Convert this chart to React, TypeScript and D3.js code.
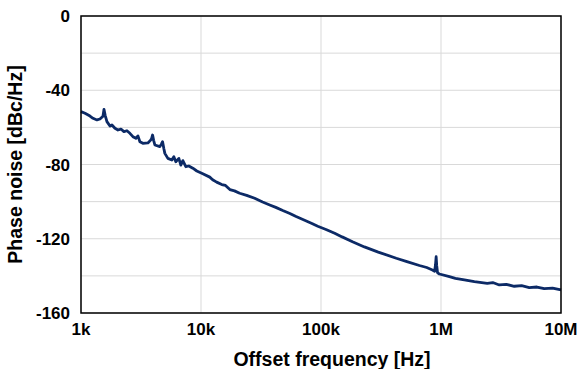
import React, { useEffect, useRef } from 'react';
import * as d3 from 'd3';

// offset frequency [Hz] and phase noise [dBc/Hz]
const freqs = [
  1000, 1080, 1188, 1258, 1359, 1439, 1524, 1554, 1590, 1645, 1743, 1811, 1918, 2032, 2151, 2279,
  2414, 2556, 2708, 2868, 2981, 3097, 3280, 3610, 3786, 3870, 3950, 4030, 4127, 4542, 4670, 4783,
  4905, 4998, 5294, 5716, 5938, 6169, 6536, 6790, 7058, 7473, 7915, 8548, 9227, 10351, 11836,
  12500, 13500, 14900, 16000, 17400, 19000, 21000, 24000, 28000, 32600, 37400, 42000, 48000,
  55000, 62000, 73000, 84000, 94000, 110000, 130000, 150000, 183000, 230000, 300000, 424000,
  520000, 661000, 760000, 848000, 885000, 900000, 911000, 921000, 935000, 970000, 1175000,
  1318000, 1566000, 1897000, 2430000, 2700000, 3060000, 3500000, 4080000, 4700000, 5440000,
  6300000, 7250000, 8500000, 10000000,
];
const noise = [
  -51.5, -52.4, -53.9, -55.1, -56.0, -55.5, -54.0, -50.3, -53.5, -56.9, -59.3, -58.7, -60.5, -61.4, -60.9, -62.3,
  -61.8, -63.2, -65.0, -65.9, -64.6, -67.7, -68.6, -68.4, -67.0, -66.2, -64.1, -67.0, -69.5, -70.4, -69.0, -67.7,
  -71.5, -74.0, -76.7, -77.6, -75.8, -78.5, -76.7, -80.3, -77.9, -81.2, -80.8, -82.0, -83.5, -85.0, -86.8,
  -88.2, -89.5, -90.8, -91.3, -93.5, -94.2, -95.5, -96.6, -98.2, -100.2, -101.8, -103.1, -104.8,
  -106.4, -108.0, -110.0, -111.8, -113.3, -115.0, -117.0, -119.0, -121.6, -124.4, -127.2, -130.5,
  -132.3, -134.4, -135.5, -136.8, -137.5, -134.0, -129.7, -134.5, -138.2, -139.0, -140.4,
  -141.3, -142.2, -143.1, -144.0, -143.6, -144.9, -144.6, -145.6, -145.3, -146.3,
  -146.0, -146.9, -146.6, -147.6,
];
const xTicks = [1e3, 1e4, 1e5, 1e6, 1e7];
const xTickLabels = ['1k', '10k', '100k', '1M', '10M'];
const yGrid = [0, -20, -40, -60, -80, -100, -120, -140, -160];
const yTickLabels = [0, -40, -80, -120, -160];

const W = 580;
const H = 369;

export default function App() {
  const ref = useRef<SVGSVGElement>(null);

  useEffect(() => {
    const svg = d3.select(ref.current);
    svg.selectAll('*').remove();

    const margin = { top: 16, right: 19, bottom: 56, left: 81 };
    const x = d3.scaleLog().domain([1e3, 1e7]).range([margin.left, W - margin.right]);
    const y = d3.scaleLinear().domain([-160, 0]).range([H - margin.bottom, margin.top]);
    const font = "'Liberation Sans', Arial, sans-serif";

    // grid
    svg.append('g')
      .selectAll('line')
      .data(yGrid)
      .join('line')
      .attr('x1', x(1e3)).attr('x2', x(1e7))
      .attr('y1', d => y(d)).attr('y2', d => y(d))
      .attr('stroke', '#d9d9d9').attr('stroke-width', 1);
    svg.append('g')
      .selectAll('line')
      .data(xTicks)
      .join('line')
      .attr('x1', d => x(d)).attr('x2', d => x(d))
      .attr('y1', y(0)).attr('y2', y(-160))
      .attr('stroke', '#d9d9d9').attr('stroke-width', 1);

    // trace
    const pts = freqs.map((f, i) => [f, noise[i]] as [number, number]);
    svg.append('path')
      .datum(pts)
      .attr('fill', 'none')
      .attr('stroke', '#0c2a66')
      .attr('stroke-width', 2.8)
      .attr('stroke-linejoin', 'round')
      .attr('d', d3.line<[number, number]>().x(d => x(d[0])).y(d => y(d[1])));

    // frame
    svg.append('rect')
      .attr('x', x(1e3)).attr('y', y(0))
      .attr('width', x(1e7) - x(1e3)).attr('height', y(-160) - y(0))
      .attr('fill', 'none').attr('stroke', '#000').attr('stroke-width', 1.5);

    // tick labels
    svg.append('g')
      .selectAll('text')
      .data(yTickLabels)
      .join('text')
      .attr('x', 70)
      .attr('y', d => y(d))
      .attr('dy', '0.36em')
      .attr('text-anchor', 'end')
      .style('font-family', font).style('font-weight', 'bold').style('font-size', '17px')
      .text(d => String(d));
    svg.append('g')
      .selectAll('text')
      .data(xTicks)
      .join('text')
      .attr('x', d => x(d))
      .attr('y', 329)
      .attr('dy', '0.36em')
      .attr('text-anchor', 'middle')
      .style('font-family', font).style('font-weight', 'bold').style('font-size', '17px')
      .text((d, i) => xTickLabels[i]);

    // axis titles
    svg.append('text')
      .attr('x', 332).attr('y', 359).attr('dy', '0.36em')
      .attr('text-anchor', 'middle')
      .style('font-family', font).style('font-weight', 'bold').style('font-size', '19.5px')
      .text('Offset frequency [Hz]');
    svg.append('text')
      .attr('transform', `translate(15,${(y(0) + y(-160)) / 2}) rotate(-90)`)
      .attr('dy', '0.36em')
      .attr('text-anchor', 'middle')
      .style('font-family', font).style('font-weight', 'bold').style('font-size', '19.5px')
      .text('Phase noise [dBc/Hz]');
  }, []);

  return (
    <svg
      ref={ref}
      width={W}
      height={H}
      style={{ position: 'absolute', left: 0, top: 0, background: '#fff' }}
    />
  );
}
